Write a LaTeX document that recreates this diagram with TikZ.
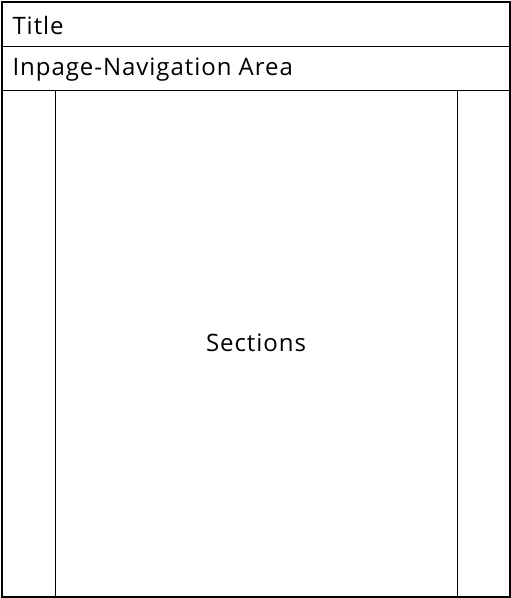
\documentclass[tikz,border=0pt]{standalone}
\usepackage{fontspec}
\setmainfont[LetterSpace=4]{Open Sans}
\begin{document}
\begin{tikzpicture}[x=1pt,y=-1pt,
        every node/.style={font=\fontsize{24}{28}\selectfont},
        frame/.style={line width=2pt},
        rule/.style={line width=0.9pt}]
        \useasboundingbox (0,0) rectangle (511,598);
        \draw[frame](2,2) rectangle (510,597);
        \draw[rule](2,46)--(510,46);
        \draw[rule](2,90)--(510,90);
        \draw[rule](55,90)--(55,597);
        \draw[rule](457,90)--(457,597);
        \node[anchor=west] (title) at (9,25) {Title};
        \node[anchor=west] (nav) at (9,70) {Inpage-Navigation Area};
        \node (sections) at (256,343) {Sections};
    \end{tikzpicture}
\end{document}
